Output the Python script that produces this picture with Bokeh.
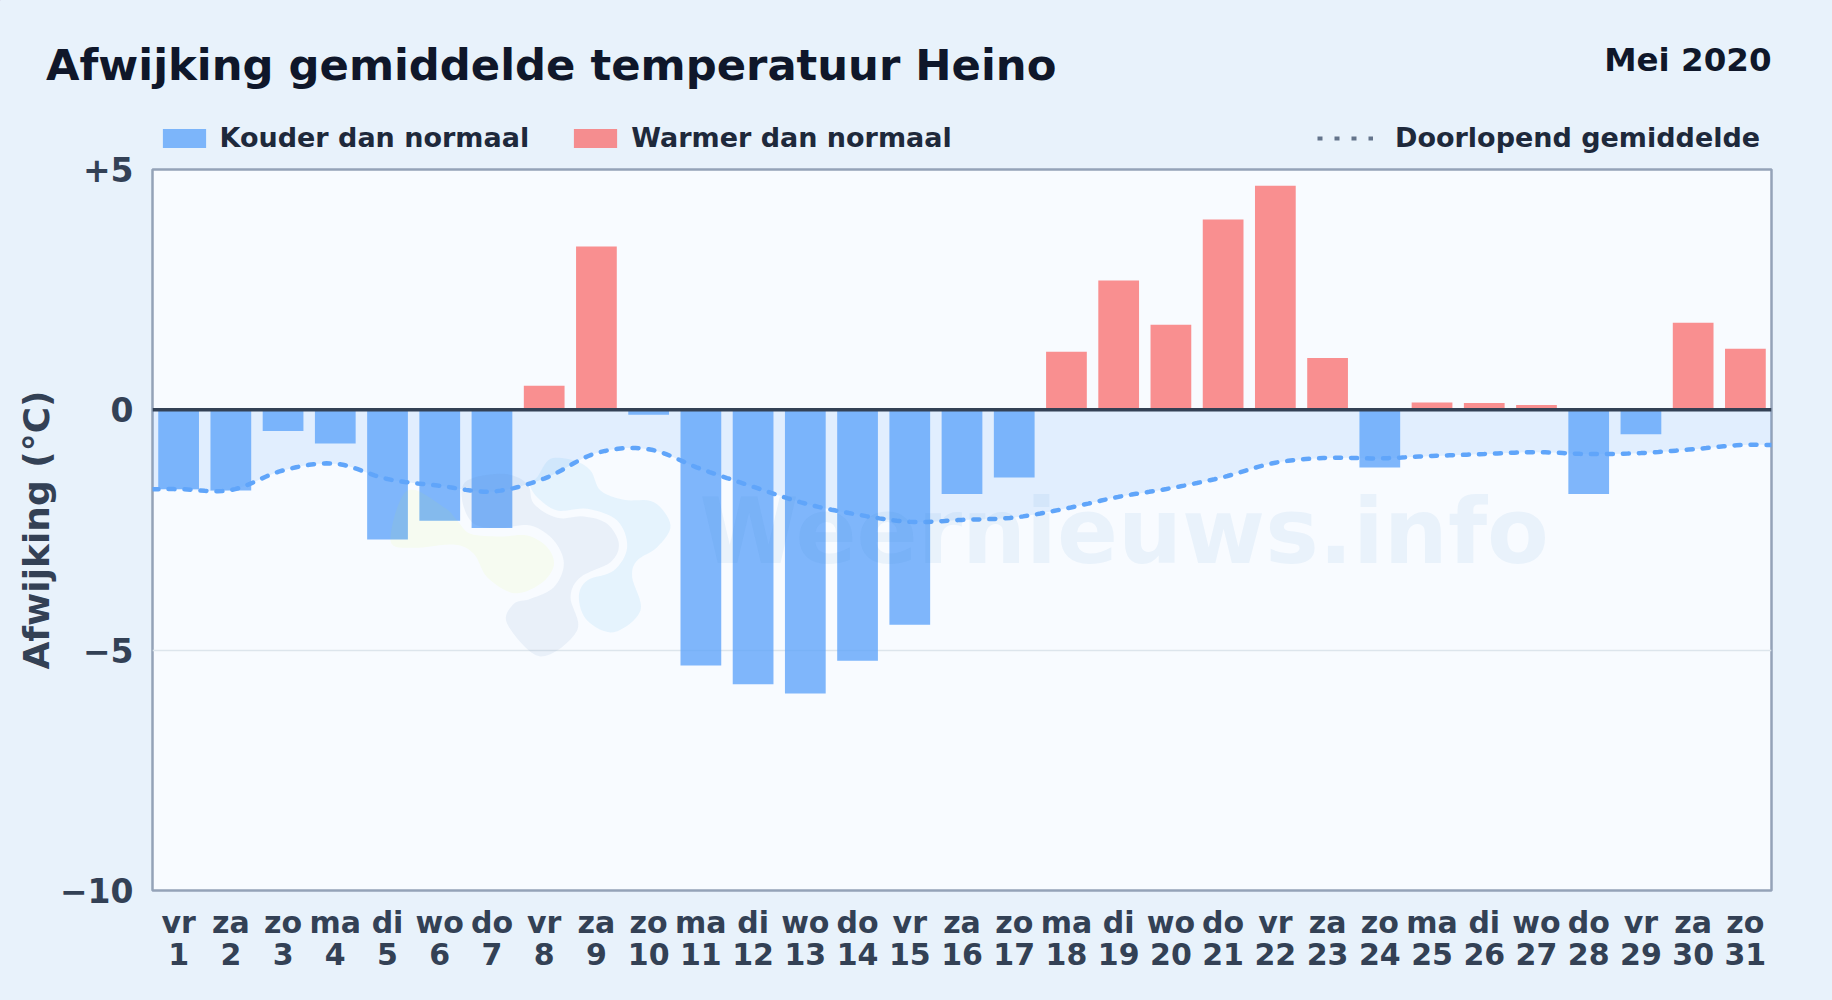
import numpy as np
from bokeh.plotting import figure
from bokeh.models import ColumnDataSource, FixedTicker, Label, Legend, LegendItem, Span, GlobalInlineStyleSheet
from bokeh.core.properties import value
from bokeh.embed import file_html
from bokeh.resources import INLINE

# ---- chart values ----
weekdays = ["vr","za","zo","ma","di","wo","do","vr","za","zo","ma","di","wo","do","vr","za","zo",
            "ma","di","wo","do","vr","za","zo","ma","di","wo","do","vr","za","zo"]
days = list(range(1, 32))
anomaly = [-1.65,-1.68,-0.44,-0.70,-2.70,-2.31,-2.46,0.50,3.40,-0.10,-5.32,-5.71,-5.90,-5.22,-4.47,
           -1.75,-1.41,1.21,2.69,1.77,3.96,4.66,1.08,-1.20,0.15,0.14,0.10,-1.75,-0.51,1.81,1.27]
running_mean = [-1.65,-1.67,-1.26,-1.12,-1.44,-1.58,-1.70,-1.43,-0.90,-0.82,-1.23,-1.60,-1.95,-2.18,
                -2.33,-2.29,-2.24,-2.05,-1.81,-1.63,-1.40,-1.10,-1.00,-1.01,-0.96,-0.92,-0.88,-0.92,
                -0.90,-0.82,-0.73]
y_ticks = [5, 0, -5, -10]
y_tick_labels = ["+5", "0", "\u22125", "\u221210"]

TITLE = "Afwijking gemiddelde temperatuur Heino"
PERIOD = "Mei 2020"
COLD_NAME, WARM_NAME, MEAN_NAME = "Kouder dan normaal", "Warmer dan normaal", "Doorlopend gemiddelde"
FONT = "DejaVu Sans"
PAGE_BG, PLOT_BG = "#e8f2fb", "#f8fbff"
COLD, WARM = "#60a5fa", "#f87171"

# ---- layout in page pixels ----
W, H = 1832, 1000
HEAD_H = 160
F_L, F_R, F_T, F_B = 152, 1771, 169, 890   # plot frame
X0, X1, Y0, Y1 = 0.5, 31.5, -10, 5

def px_x(px):
    return X0 + (px - F_L) / (F_R - F_L) * (X1 - X0)
def px_y(py):
    return Y1 - (py - F_T) / (F_B - F_T) * (Y1 - Y0)

def smooth(xs, ys, per=12):
    """Draw a curve through the read values (cubic Hermite between neighbours)."""
    xs, ys = np.asarray(xs, float), np.asarray(ys, float)
    m = np.gradient(ys, xs)
    ox, oy = [], []
    for i in range(len(xs) - 1):
        h = xs[i + 1] - xs[i]
        for t in np.linspace(0, 1, per, endpoint=False):
            a = 2*t**3 - 3*t**2 + 1; b = t**3 - 2*t**2 + t; c = -2*t**3 + 3*t**2; d = t**3 - t**2
            ox.append(xs[i] + t*h)
            oy.append(a*ys[i] + b*h*m[i] + c*ys[i+1] + d*h*m[i+1])
    ox.append(xs[-1]); oy.append(ys[-1])
    return ox, oy

def blob(points, per=8):
    """Closed smooth outline for the watermark logo, from page pixels to chart coordinates."""
    q = np.asarray(points, float)
    n = len(q); out = []
    for i in range(n):
        p0, p1, p2, p3 = q[(i-1) % n], q[i], q[(i+1) % n], q[(i+2) % n]
        for t in np.linspace(0, 1, per, endpoint=False):
            out.append(0.5*((2*p1) + (-p0+p2)*t + (2*p0-5*p1+4*p2-p3)*t**2 + (-p0+3*p1-3*p2+p3)*t**3))
    out = np.array(out)
    return list(px_x(out[:, 0])), list(px_y(out[:, 1]))

def zoomed(pts):   # logo outlines were traced on a 3x crop at (370,440)
    return [(370 + a/3, 440 + b/3) for a, b in pts]

# ---- header: title, period and legends, a transparent strip laid over the chart's top border ----
head = figure(width=W, height=HEAD_H, output_backend="svg", toolbar_location=None,
              x_range=(0, W), y_range=(HEAD_H, 0), x_axis_type=None, y_axis_type=None,
              min_border=0, outline_line_color=None,
              background_fill_color=None, border_fill_color=None,
              styles={"position": "absolute", "top": "0", "left": "0", "z-index": "5"})
head.stylesheets = [GlobalInlineStyleSheet(css=f"html,body{{background:{PAGE_BG};}}")]
head.grid.visible = False
head.add_layout(Label(x=45.5, y=64, text=TITLE, text_font=FONT, text_font_style="bold",
                      text_font_size="43.3px", text_color="#0f172a", text_baseline="alphabetic"))
head.add_layout(Label(x=1771, y=59.5, text=PERIOD, text_font=FONT, text_font_style="bold",
                      text_font_size="32.5px", text_color="#0f172a", text_align="right",
                      text_baseline="alphabetic"))

# legend keys only: they sit outside the strip's range, so only their legend swatches show
OFF = -1000
k_cold = head.vbar(x=[OFF], top=[OFF], bottom=OFF - 1, width=1, fill_color=COLD, fill_alpha=0.8, line_color=None)
k_warm = head.vbar(x=[OFF], top=[OFF], bottom=OFF - 1, width=1, fill_color=WARM, fill_alpha=0.78, line_color=None)
k_mean = head.line([OFF, OFF], [OFF, OFF - 1], line_color="#64748b", line_width=4, line_dash="5 12")

def make_legend(items, x, gw, gh, standoff):
    lg = Legend(items=items, location=(x, 7), orientation="horizontal", glyph_width=gw, glyph_height=gh,
                label_standoff=standoff, spacing=39, padding=0, margin=0,
                background_fill_alpha=0, border_line_color=None,
                label_text_font=FONT, label_text_font_style="bold", label_text_font_size="27px",
                label_text_color="#1e293b", label_height=19)
    head.add_layout(lg, "center")
make_legend([LegendItem(label=value(COLD_NAME), renderers=[k_cold]),
             LegendItem(label=value(WARM_NAME), renderers=[k_warm])], 156.5, 54, 24, 9)
make_legend([LegendItem(label=value(MEAN_NAME), renderers=[k_mean])], 1317, 56, 24, 22)

# ---- chart ----
p = figure(width=W, height=H, output_backend="svg", toolbar_location=None,
           x_range=(X0, X1), y_range=(Y0, Y1),
           min_border_left=F_L, min_border_right=W - F_R,
           min_border_top=F_T, min_border_bottom=H - F_B,
           background_fill_color=PLOT_BG, border_fill_color=PAGE_BG)

p.outline_line_color = "#94a3b8"
p.outline_line_width = 2.5

p.xaxis.ticker = FixedTicker(ticks=days)
p.xaxis.major_label_overrides = {d: f"{w}\n{d}" for d, w in zip(days, weekdays)}
p.xaxis.major_label_text_font = FONT
p.xaxis.major_label_text_font_style = "bold"
p.xaxis.major_label_text_font_size = "30px"
p.xaxis.major_label_text_color = "#334155"
p.xaxis.major_label_text_line_height = 0.94
p.xaxis.major_label_standoff = 8
p.yaxis.ticker = FixedTicker(ticks=y_ticks)
p.yaxis.major_label_overrides = dict(zip(y_ticks, y_tick_labels))
p.yaxis.major_label_text_font = FONT
p.yaxis.major_label_text_font_style = "bold"
p.yaxis.major_label_text_font_size = "33px"
p.yaxis.major_label_text_color = "#334155"
p.yaxis.major_label_standoff = 13
p.yaxis.axis_label = "Afwijking (\u00b0C)"
p.yaxis.axis_label_text_font = FONT
p.yaxis.axis_label_text_font_style = "bold"
p.yaxis.axis_label_text_font_size = "36px"
p.yaxis.axis_label_text_color = "#334155"
p.yaxis.axis_label_standoff = 0
for ax in (p.xaxis, p.yaxis):
    ax.axis_line_color = None
    ax.major_tick_line_color = None
    ax.minor_tick_line_color = None
p.xgrid.visible = False
p.ygrid.ticker = FixedTicker(ticks=[-5])
p.ygrid.grid_line_color = "#dde5ec"
p.ygrid.grid_line_width = 1.5

# area between zero and the running mean
curve_x, curve_y = smooth([X0] + days + [X1], [running_mean[0]] + running_mean + [running_mean[-1]])
p.varea(x=curve_x, y1=curve_y, y2=[0] * len(curve_x), fill_color=COLD, fill_alpha=0.15)

# bars
cold = ColumnDataSource(dict(x=[d for d, v in zip(days, anomaly) if v < 0],
                             top=[v for v in anomaly if v < 0]))
warm = ColumnDataSource(dict(x=[d for d, v in zip(days, anomaly) if v >= 0],
                             top=[v for v in anomaly if v >= 0]))
p.vbar(x="x", top="top", bottom=0, width=0.78, source=cold, fill_color=COLD, fill_alpha=0.8, line_color=None)
p.vbar(x="x", top="top", bottom=0, width=0.78, source=warm, fill_color=WARM, fill_alpha=0.78, line_color=None)

# watermark: logo and site name
logo = [
    ("#dafb19", 0.06, [(110,150),(60,300),(130,322),(250,312),(310,340),(350,410),(430,458),(510,430),
                 (550,375),(530,320),(470,285),(390,288),(300,280),(260,240),(220,200)]),
    ("#5883b9", 0.09, [(410,550),(510,648),(620,570),(600,470),(630,410),(720,365),(745,310),(710,250),
                 (640,228),(560,232),(490,190),(470,130),(400,100),(290,120),(275,180),(310,250),
                 (390,262),(480,255),(550,300),(580,370),(550,440),(480,475),(430,490)]),
    ("#30abeb", 0.09, [(500,110),(540,55),(610,60),(660,90),(690,150),(760,178),(850,185),(900,255),
                 (860,320),(800,360),(785,410),(810,510),(730,575),(650,540),(625,470),(650,420),
                 (730,390),(770,320),(740,240),(650,205),(560,210),(500,170),(478,130)]),
]
for colour, alpha, outline in logo:
    bx, by = blob(zoomed(outline))
    p.patch(bx, by, fill_color=colour, fill_alpha=alpha, line_color=None)
p.add_layout(Label(x=px_x(699), y=px_y(531), text="Weernieuws.info", text_font=FONT,
                   text_font_style="bold", text_font_size="90px", text_color="#307ac6", text_alpha=0.07,
                   text_baseline="alphabetic"))

# zero line and running mean on top
p.add_layout(Span(location=0, dimension="width", line_color="#334155", line_width=3.5))
p.line(curve_x, curve_y, line_color=COLD, line_width=4.5, line_dash="6 10", line_cap="round")

open("out.html", "w").write(file_html([head, p], INLINE))
